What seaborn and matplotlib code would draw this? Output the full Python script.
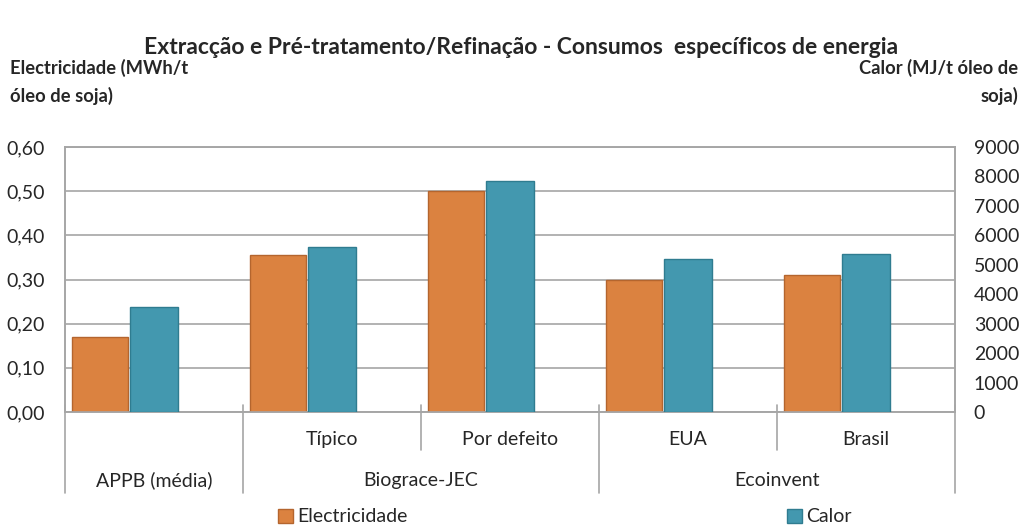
import numpy as np
import pandas as pd
import matplotlib
matplotlib.use("Agg")
import matplotlib.pyplot as plt
import matplotlib.transforms as mtransforms
from matplotlib.patches import Patch
from matplotlib.ticker import FuncFormatter, MultipleLocator
import seaborn as sns

# data
groups = ["APPB (média)", "Biograce-JEC", "Biograce-JEC", "Ecoinvent", "Ecoinvent"]
subcats = ["", "Típico", "Por defeito", "EUA", "Brasil"]
elec = [0.17, 0.355, 0.50, 0.30, 0.31]        # MWh/t
calor = [3570, 5600, 7850, 5200, 5370]        # MJ/t

title = "Extracção e Pré-tratamento/Refinação - Consumos  específicos de energia"
ylabel_left = "Electricidade (MWh/t\nóleo de soja)"
ylabel_right = "Calor (MJ/t óleo de\nsoja)"

ORANGE = "#DB8240"
ORANGE_EDGE = "#B4652E"
TEAL = "#4398AF"
TEAL_EDGE = "#2F7C90"
GRID = "#A6A6A6"

sns.set_style("white")
plt.rcParams["font.family"] = ["Lato", "DejaVu Sans"]

df = pd.DataFrame({
    "key": [f"{g}|{s}" for g, s in zip(groups, subcats)],
    "elec": elec,
    "calor": calor,
})

fig = plt.figure(figsize=(10.21, 5.26), dpi=100)
ax = fig.add_axes([0.0637, 0.2167, 0.8717, 0.5038])
ax2 = ax.twinx()

sns.barplot(data=df, x="key", y="elec", ax=ax, color=ORANGE, width=0.315,
            edgecolor=ORANGE_EDGE, linewidth=1, saturation=1, zorder=3)
for p in ax.patches:
    p.set_x(p.get_x() - 0.305)

sns.barplot(data=df, x="key", y="calor", ax=ax2, color=TEAL, width=0.265,
            edgecolor=TEAL_EDGE, linewidth=1, saturation=1, zorder=3)

n = len(df)
for a in (ax, ax2):
    a.set_xlim(-0.5, n - 0.5)
    a.set_xlabel("")
    a.set_ylabel("")
    a.set_xticks([])
    a.tick_params(axis="y", length=0, labelsize=14)

ax.set_ylim(0, 0.6)
ax.yaxis.set_major_locator(MultipleLocator(0.1))
ax.yaxis.set_major_formatter(FuncFormatter(lambda v, _: f"{v:.2f}".replace(".", ",")))
ax.tick_params(axis="y", pad=14.5)
ax2.set_ylim(0, 9000)
ax2.yaxis.set_major_locator(MultipleLocator(1000))
ax2.tick_params(axis="y", pad=13.5)

ax.set_axisbelow(True)
ax.yaxis.grid(True, color=GRID, linewidth=1.2)
for a in (ax, ax2):
    for s in a.spines.values():
        s.set_color(GRID)
        s.set_linewidth(1.2)

# hierarchical category axis
trans = mtransforms.blended_transform_factory(ax.transData, ax.transAxes)
for i in range(n + 1):
    x = i - 0.5
    full = i == 0 or i == n or groups[i] != groups[i - 1]
    y_end = -0.306 if full else -0.143
    ax.plot([x, x], [0.026, y_end], transform=trans, color=GRID,
            linewidth=1.2, clip_on=False)

for i, s in enumerate(subcats):
    if s:
        ax.text(i, -0.102, s, transform=trans, ha="center", va="center", fontsize=14)

seen = []
for g in groups:
    if g not in seen:
        seen.append(g)
for g in seen:
    idx = [i for i, gg in enumerate(groups) if gg == g]
    ax.text(np.mean(idx), -0.257, g, transform=trans, ha="center", va="center", fontsize=14)

fig.text(0.51, 1 - 48 / 526, title, ha="center", va="center",
         fontsize=16.5, fontweight="bold")
fig.text(10 / 1021, 1 - 59 / 526, ylabel_left, ha="left", va="top",
         fontsize=13.2, fontweight="bold", linespacing=1.65)
fig.text(1018 / 1021, 1 - 59 / 526, ylabel_right, ha="right", va="top",
         fontsize=13.2, fontweight="bold", linespacing=1.65, multialignment="right")

handles = [Patch(facecolor=ORANGE, edgecolor=ORANGE_EDGE, label="Electricidade"),
           Patch(facecolor=TEAL, edgecolor=TEAL_EDGE, label="Calor")]
fig.legend(handles=handles, loc="center", bbox_to_anchor=(565 / 1021, 9 / 526),
           ncol=2, frameon=False, fontsize=14, handlelength=0.75, handleheight=0.75,
           handletextpad=0.25, columnspacing=19.5, borderaxespad=0)

fig.savefig("out.png", dpi=100)
